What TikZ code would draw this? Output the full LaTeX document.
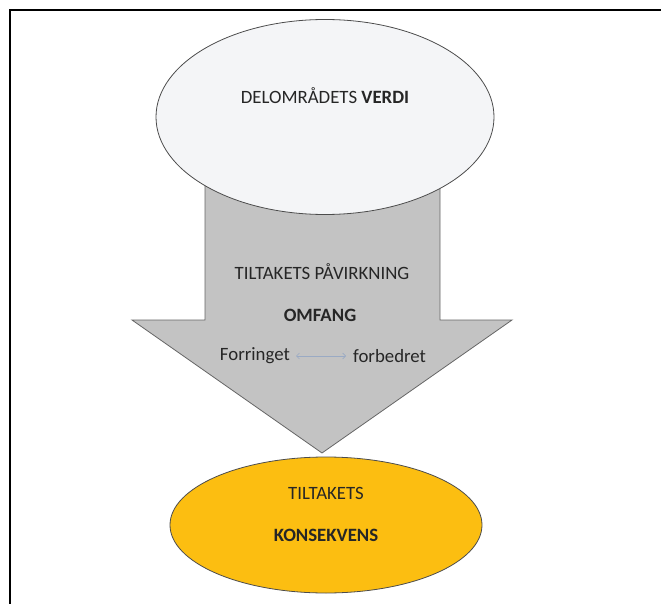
\documentclass[tikz,border=0pt]{standalone}
\usepackage{fontspec}
\setmainfont{Carlito}
\usetikzlibrary{shapes.geometric,arrows.meta,positioning}
\definecolor{verdifill}{HTML}{F4F5F7}
\definecolor{pilfill}{HTML}{C3C3C3}
\definecolor{konsfill}{HTML}{FCBE11}
\definecolor{pilblue}{HTML}{9AAAC4}

\begin{document}
\begin{tikzpicture}[x=1pt,y=-1pt,
    tekst/.style={font=\fontsize{18.8}{21}\selectfont, text=black!85, inner sep=0pt},
    ellipsebox/.style={ellipse, draw=black!70, line width=0.8pt, inner sep=0pt}]
  \useasboundingbox (0,0) rectangle (661,604);
  % ramme
  \draw[line width=2pt] (10,610) -- (10,10) -- (665,10);
  % pil
  \draw[fill=pilfill, draw=black!60, line width=0.8pt]
    (205,150) -- (205,320) -- (132,320) -- (322,453) -- (512,320) -- (440,320) -- (440,150);
  \node[ellipsebox, fill=verdifill, minimum width=338pt, minimum height=195pt] (verdi) at (325,117) {};
  \node[tekst] (verditekst) at (325,96) {DELOMRÅDETS \textbf{VERDI}};
  \node[tekst] (paavirkning) at (322,272) {TILTAKETS PÅVIRKNING};
  \node[tekst, font=\fontsize{18.8}{21}\selectfont\bfseries] (omfang) at (320,315) {OMFANG};
  \node[tekst, anchor=east] (forringet) at (290,356) {Forringet};
  \node[tekst, anchor=west] (forbedret) at (353,356) {forbedret};
  \draw[{Straight Barb[length=3pt]}-{Straight Barb[length=3pt]}, pilblue, line width=0.6pt, shorten <=6pt, shorten >=7pt]
    (forringet) -- (forbedret);
  % konsekvens
  \node[ellipsebox, fill=konsfill, minimum width=312pt, minimum height=136pt] (konsekvens) at (326,525) {};
  \node[tekst] (tiltakets) at (326,493) {TILTAKETS};
  \node[tekst, font=\fontsize{18.8}{21}\selectfont\bfseries] (konstekst) at (326,535) {KONSEKVENS};
\end{tikzpicture}
\end{document}
